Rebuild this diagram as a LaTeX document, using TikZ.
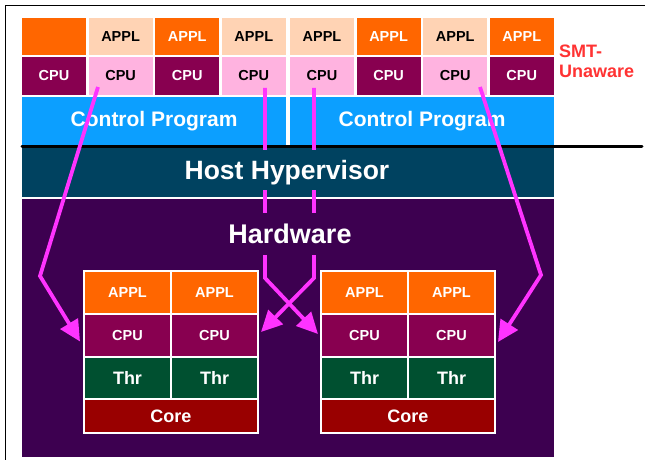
\documentclass[tikz,border=0pt]{standalone}
\usepackage{fontspec}
\setmainfont{Liberation Sans}
\usetikzlibrary{arrows.meta, positioning}
\definecolor{applhot}{HTML}{FF6600}
\definecolor{applsoft}{HTML}{FFD3B4}
\definecolor{cpuhot}{HTML}{880050}
\definecolor{cpusoft}{HTML}{FFB3E0}
\definecolor{ctlc}{HTML}{0C9FFF}
\definecolor{hypc}{HTML}{004260}
\definecolor{hwc}{HTML}{3D0050}
\definecolor{thrc}{HTML}{005030}
\definecolor{corec}{HTML}{990000}
\definecolor{migc}{HTML}{FF33FF}
\definecolor{smtc}{HTML}{FF3333}

\begin{document}
\begin{tikzpicture}[
  x=1pt, y=-1pt,
  node distance=2pt and 2.6pt,
  cell/.style={minimum width=64pt, minimum height=37pt, inner sep=0pt, outer sep=0pt,
    font=\fontsize{14.5}{17}\selectfont\bfseries},
  hotappl/.style={cell, fill=applhot, text=white},
  softappl/.style={cell, fill=applsoft, text=black},
  hotcpu/.style={cell, fill=cpuhot, text=white, minimum height=38pt},
  softcpu/.style={cell, fill=cpusoft, text=black, minimum height=38pt},
  ctl/.style={anchor=north west, fill=ctlc, text=white, minimum width=263.8pt, minimum height=48pt,
    inner sep=0pt, font=\fontsize{21}{24}\selectfont\bfseries},
  band/.style={anchor=north west, minimum width=531.8pt, inner sep=0pt, outer sep=0pt},
  bandlabel/.style={anchor=base, text=white, inner ysep=0pt, inner xsep=4pt,
    font=\fontsize{26.5}{30}\selectfont\bfseries},
  slot/.style={draw=white, line width=2pt, minimum width=87pt, inner sep=0pt, outer sep=0pt,
    text=white, font=\fontsize{14.5}{17}\selectfont\bfseries},
  migr/.style={draw=migc, line width=3.8pt, -{Triangle[length=21pt, width=20pt]}}
]
\fill[white] (0,0) rectangle (646,460);
\useasboundingbox (0,0) rectangle (646,460);
\draw[black, line width=0.8pt] (5,460) |- (645,5);

% guest side: APPL over CPU, two control programs
\node[hotappl, anchor=north west] (a1) at (22,18) {};
\node[softappl, right=of a1] (a2) {APPL};
\node[hotappl, right=of a2] (a3) {APPL};
\node[softappl, right=of a3] (a4) {APPL};
\node[softappl, anchor=north west] (a5) at (290,18) {APPL};
\node[hotappl, right=of a5] (a6) {APPL};
\node[softappl, right=of a6] (a7) {APPL};
\node[hotappl, right=of a7] (a8) {APPL};

\node[hotcpu, below=of a1] (c1) {CPU};
\node[softcpu, below=of a2] (c2) {CPU};
\node[hotcpu, below=of a3] (c3) {CPU};
\node[softcpu, below=of a4] (c4) {CPU};
\node[softcpu, below=of a5] (c5) {CPU};
\node[hotcpu, below=of a6] (c6) {CPU};
\node[softcpu, below=of a7] (c7) {CPU};
\node[hotcpu, below=of a8] (c8) {CPU};

\node[ctl] (cp1) at (22,97) {Control Program};
\node[ctl] (cp2) at (290,97) {Control Program};

\node[anchor=north west, align=left, inner sep=0pt, text=smtc,
  font=\fontsize{18}{20}\selectfont\bfseries] (smt) at (559,45) {SMT-\\Unaware};

\coordinate (rulew) at (22,146.5);
\coordinate (rulee) at (642,146.5);
\draw[line width=3pt, line cap=round] (rulew) -- (rulee);

% host side
\node[band, fill=hypc, minimum height=49pt] (hyp) at (22,148) {};
\node[band, fill=hwc, minimum height=258pt] (hw) at (22,199) {};

\node[slot, fill=applhot, minimum height=43pt, anchor=north west] (la1) at (84,271) {APPL};
\node[slot, fill=applhot, minimum height=43pt, right=0pt of la1] (la2) {APPL};
\node[slot, fill=cpuhot, minimum height=43pt, below=0pt of la1] (lc1) {CPU};
\node[slot, fill=cpuhot, minimum height=43pt, below=0pt of la2] (lc2) {CPU};
\node[slot, fill=thrc, minimum height=42pt, below=0pt of lc1, font=\fontsize{18}{20}\selectfont\bfseries] (lt1) {Thr};
\node[slot, fill=thrc, minimum height=42pt, below=0pt of lc2, font=\fontsize{18}{20}\selectfont\bfseries] (lt2) {Thr};
\node[slot, fill=corec, minimum height=34pt, minimum width=174pt, anchor=north west,
  font=\fontsize{18}{20}\selectfont\bfseries] (lcore) at (lt1.south west) {Core};

\node[slot, fill=applhot, minimum height=43pt, anchor=north west] (ra1) at (321,271) {APPL};
\node[slot, fill=applhot, minimum height=43pt, right=0pt of ra1] (ra2) {APPL};
\node[slot, fill=cpuhot, minimum height=43pt, below=0pt of ra1] (rc1) {CPU};
\node[slot, fill=cpuhot, minimum height=43pt, below=0pt of ra2] (rc2) {CPU};
\node[slot, fill=thrc, minimum height=42pt, below=0pt of rc1, font=\fontsize{18}{20}\selectfont\bfseries] (rt1) {Thr};
\node[slot, fill=thrc, minimum height=42pt, below=0pt of rc2, font=\fontsize{18}{20}\selectfont\bfseries] (rt2) {Thr};
\node[slot, fill=corec, minimum height=34pt, minimum width=174pt, anchor=north west,
  font=\fontsize{18}{20}\selectfont\bfseries] (rcore) at (rt1.south west) {Core};

% virtual CPUs dispatched onto threads
\coordinate (bend1) at (40,276);
\coordinate (bend2) at (265,278);
\coordinate (bend3) at (314,278);
\coordinate (bend4) at (541,275);
\draw[migr] ([xshift=-22.6pt, yshift=-11pt]c2.center) -- (bend1) -- ([xshift=-4pt, yshift=-6pt]lc1.west);
\draw[migr] ([xshift=11.2pt, yshift=-12pt]c4.center) -- (bend2) -- ([xshift=-3pt, yshift=1.5pt]rc1.west);
\draw[migr] ([xshift=-8pt, yshift=-12pt]c5.center) -- (bend3) -- ([xshift=3pt, yshift=3.5pt]lc2.east);
\draw[migr] ([xshift=24.8pt, yshift=-11pt]c7.center) -- (bend4) -- ([xshift=3pt, yshift=-6.5pt]rc2.east);

\node[bandlabel, fill=hypc, text height=29pt, text depth=11pt] (hyptext) at (287,179) {Host Hypervisor};
\node[bandlabel, fill=hwc, text height=30pt, text depth=12pt,
  font=\fontsize{27}{30}\selectfont\bfseries] (hwtext) at (290,243) {Hardware};
\end{tikzpicture}
\end{document}
